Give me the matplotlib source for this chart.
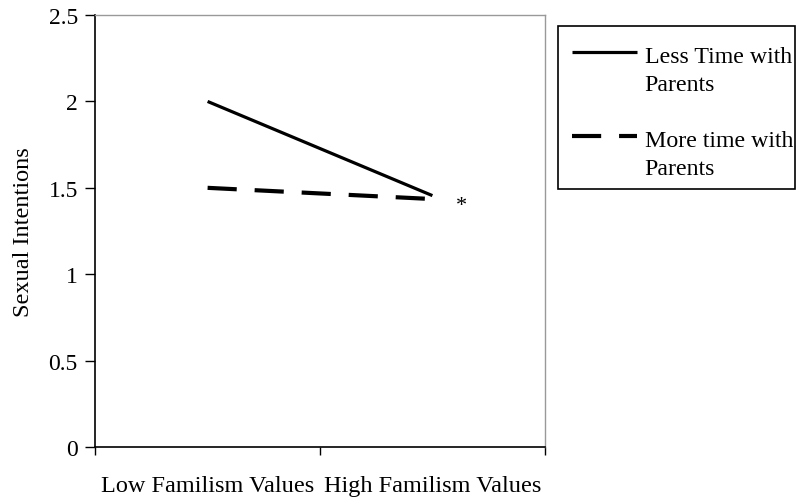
import numpy as np
import matplotlib.pyplot as plt
from matplotlib.patches import Rectangle
from matplotlib.ticker import FixedLocator

plt.rcParams['font.family'] = ['Liberation Serif', 'DejaVu Serif']

# Data
categories = ['Low Familism Values', 'High Familism Values']
less_time = [2.0, 1.455]
more_time = [1.50, 1.435]
y_ticks = [0, 0.5, 1, 1.5, 2, 2.5]
y_tick_labels = ['0', '0.5', '1', '1.5', '2', '2.5']

W, H = 800, 502
fig = plt.figure(figsize=(W / 100, H / 100), dpi=100)
ax = fig.add_axes([0.119, 0.1076, 0.562, 0.8604])

x = np.arange(len(categories))
ax.plot(x, less_time, color='black', lw=2.3, solid_capstyle='butt',
        label='Less Time with\nParents')
ax.plot(x, more_time, color='black', lw=3.0, dashes=(7, 4.3),
        dash_capstyle='butt', label='More time with\nParents')
ax.text(1.13, 1.40, '*', fontsize=16, ha='center', va='center')

ax.set_xlim(-0.5, 1.5)
ax.set_ylim(0, 2.5)
ax.set_yticks(y_ticks)
ax.set_yticklabels(y_tick_labels, fontsize=17)
ax.set_xticks(x)
ax.set_xticklabels(categories, fontsize=17.5)
ax.tick_params(axis='x', which='major', length=0, pad=20.5)
ax.xaxis.set_minor_locator(FixedLocator([-0.5, 0.5, 1.5]))
ax.tick_params(axis='x', which='minor', length=6, width=1, direction='out')
ax.tick_params(axis='y', length=7, width=1, direction='out', pad=5.5)
ax.set_ylabel('Sexual Intentions', fontsize=17.5)
ax.yaxis.set_label_coords(-0.137, 0.5)

for s in ['left', 'bottom']:
    ax.spines[s].set_color('black')
    ax.spines[s].set_linewidth(1.2)
for s in ['top', 'right']:
    ax.spines[s].set_color('#999999')
    ax.spines[s].set_linewidth(1.0)

# legend content without frame, frame drawn as its own box
leg = ax.legend(loc='upper left', bbox_to_anchor=(572 / W, 1 - 47 / H),
                bbox_transform=fig.transFigure, fontsize=17.2,
                frameon=False, handlelength=2.7, handletextpad=0.34,
                labelspacing=1.45, borderpad=0, borderaxespad=0)
for t in leg.get_texts():
    t.set_linespacing(1.45)
# put the legend lines near the first text line
for h in leg.legend_handles:
    h.set_ydata(np.asarray(h.get_ydata()) + 13)

fig.patches.append(Rectangle((558 / W, 1 - 190 / H), 237 / W, 163 / H,
                             transform=fig.transFigure, fill=False,
                             edgecolor='black', lw=1.2))

fig.savefig('out.png', dpi=100)
